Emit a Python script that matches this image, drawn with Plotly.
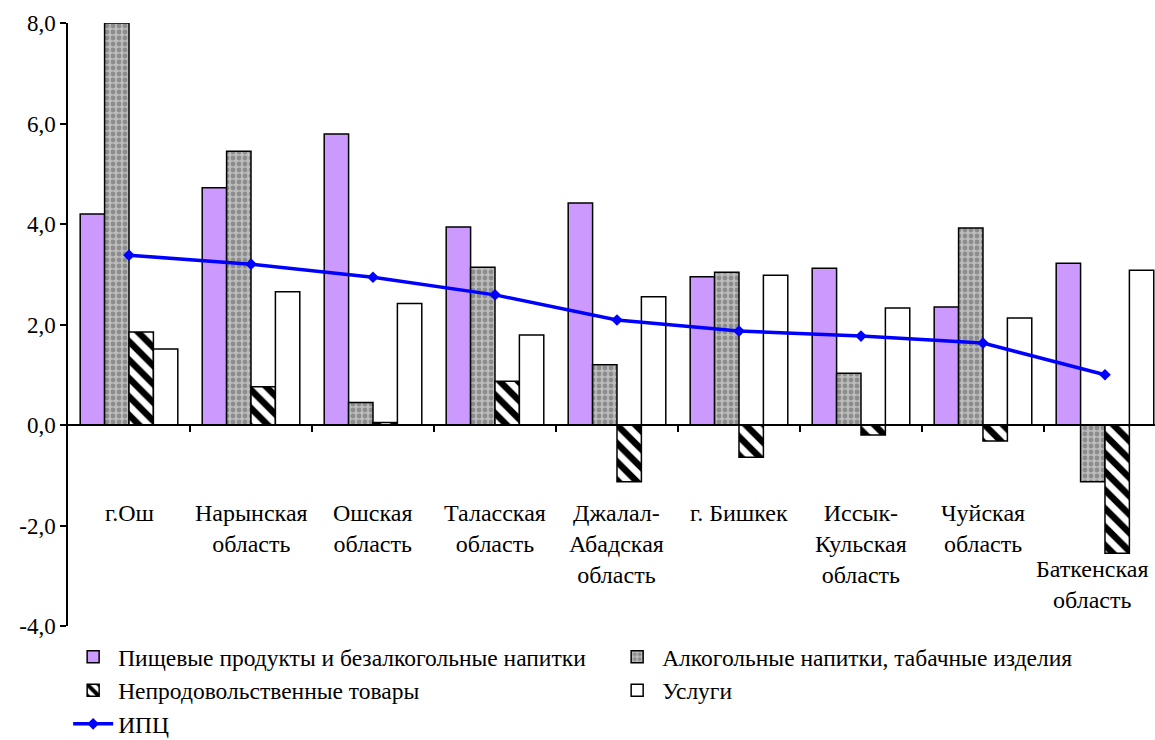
import plotly.graph_objects as go

categories = ["г.Ош", "Нарынская<br>область", "Ошская<br>область", "Таласская<br>область",
              "Джалал-<br>Абадская<br>область", "г. Бишкек", "Иссык-<br>Кульская<br>область",
              "Чуйская<br>область", "Баткенская<br>область"]

food = [4.2, 4.72, 5.79, 3.94, 4.42, 2.95, 3.12, 2.35, 3.22]
alcohol = [8.0, 5.45, 0.45, 3.14, 1.2, 3.04, 1.03, 3.92, -1.13]
nonfood = [1.85, 0.76, 0.05, 0.87, -1.13, -0.64, -0.2, -0.32, -2.55]
services = [1.51, 2.65, 2.42, 1.79, 2.55, 2.98, 2.33, 2.13, 3.08]
cpi = [3.38, 3.2, 2.94, 2.59, 2.09, 1.87, 1.77, 1.63, 1.0]

names = ["Пищевые продукты и безалкогольные напитки",
         "Алкогольные напитки, табачные изделия",
         "Непродовольственные товары",
         "Услуги",
         "ИПЦ"]

ytickvals = [-4, -2, 0, 2, 4, 6, 8]
yticktext = ["-4,0", "-2,0", "0,0", "2,0", "4,0", "6,0", "8,0"]

FONT = "Liberation Serif, Times New Roman, serif"
xs = list(range(len(categories)))

fig = go.Figure()
line = dict(color="black", width=1.5)
fig.add_trace(go.Bar(x=xs, y=food, name=names[0], legend="legend",
                     marker=dict(color="#CC99FF", line=line)))
fig.add_trace(go.Bar(x=xs, y=alcohol, name=names[1], legend="legend2",
                     marker=dict(color="#9c9c9c", line=line,
                                 pattern=dict(shape=".", fgcolor="#5c5c5c", bgcolor="#bcbcbc",
                                              size=6, solidity=0.5))))
fig.add_trace(go.Bar(x=xs, y=nonfood, name=names[2], legend="legend",
                     marker=dict(color="white", line=line,
                                 pattern=dict(shape="\\", fgcolor="black", bgcolor="white",
                                              size=13, solidity=0.5, fgopacity=1))))
fig.add_trace(go.Bar(x=xs, y=services, name=names[3], legend="legend2",
                     marker=dict(color="white", line=line)))
fig.add_trace(go.Scatter(x=xs, y=cpi, name=names[4], mode="lines+markers", legend="legend",
                         line=dict(color="#0000FF", width=3.5),
                         marker=dict(symbol="diamond", size=9, color="#0000FF")))

last = len(categories) - 1
for i, lab in enumerate(categories):
    fig.add_annotation(x=i, y=-1.45, xref="x", yref="y", text=lab, showarrow=False,
                       yanchor="top", xanchor="center", align="center",
                       yshift=-56 if i == last else 0, xshift=-12 if i == last else 0,
                       font=dict(family=FONT, size=24, color="black"))

legend_common = dict(orientation="v", xanchor="left", yanchor="top",
                     xref="container", yref="container", y=0.142,
                     font=dict(family=FONT, size=23.5, color="black"),
                     tracegroupgap=0, itemwidth=40, bgcolor="rgba(0,0,0,0)")

fig.update_layout(
    width=1155, height=740,
    margin=dict(l=68, r=0, t=23, b=114, autoexpand=False),
    paper_bgcolor="white", plot_bgcolor="white",
    barmode="group", bargap=0.2, bargroupgap=0,
    font=dict(family=FONT, size=23, color="black"),
    xaxis=dict(range=[-0.5, 8.41], anchor="free", position=1/3,
               showline=True, linecolor="black", linewidth=1.5,
               tickvals=[i + 0.5 for i in xs[:-1]], ticktext=["" for _ in xs[:-1]],
               ticks="outside", ticklen=6, tickwidth=1.5, tickcolor="black",
               showgrid=False, zeroline=False),
    yaxis=dict(range=[-4, 8], tickvals=ytickvals, ticktext=yticktext,
               showline=True, linecolor="black", linewidth=1.5,
               ticks="outside", ticklen=6, tickwidth=1.5, tickcolor="black",
               showgrid=False, zeroline=False,
               tickfont=dict(family=FONT, size=23, color="black")),
    legend=dict(x=0.059, **legend_common),
    legend2=dict(x=0.53, **legend_common),
    showlegend=True,
)

fig.write_html("out.html", config={"displayModeBar": False},
               post_script="document.body.style.margin='0';document.body.style.overflow='hidden';")
